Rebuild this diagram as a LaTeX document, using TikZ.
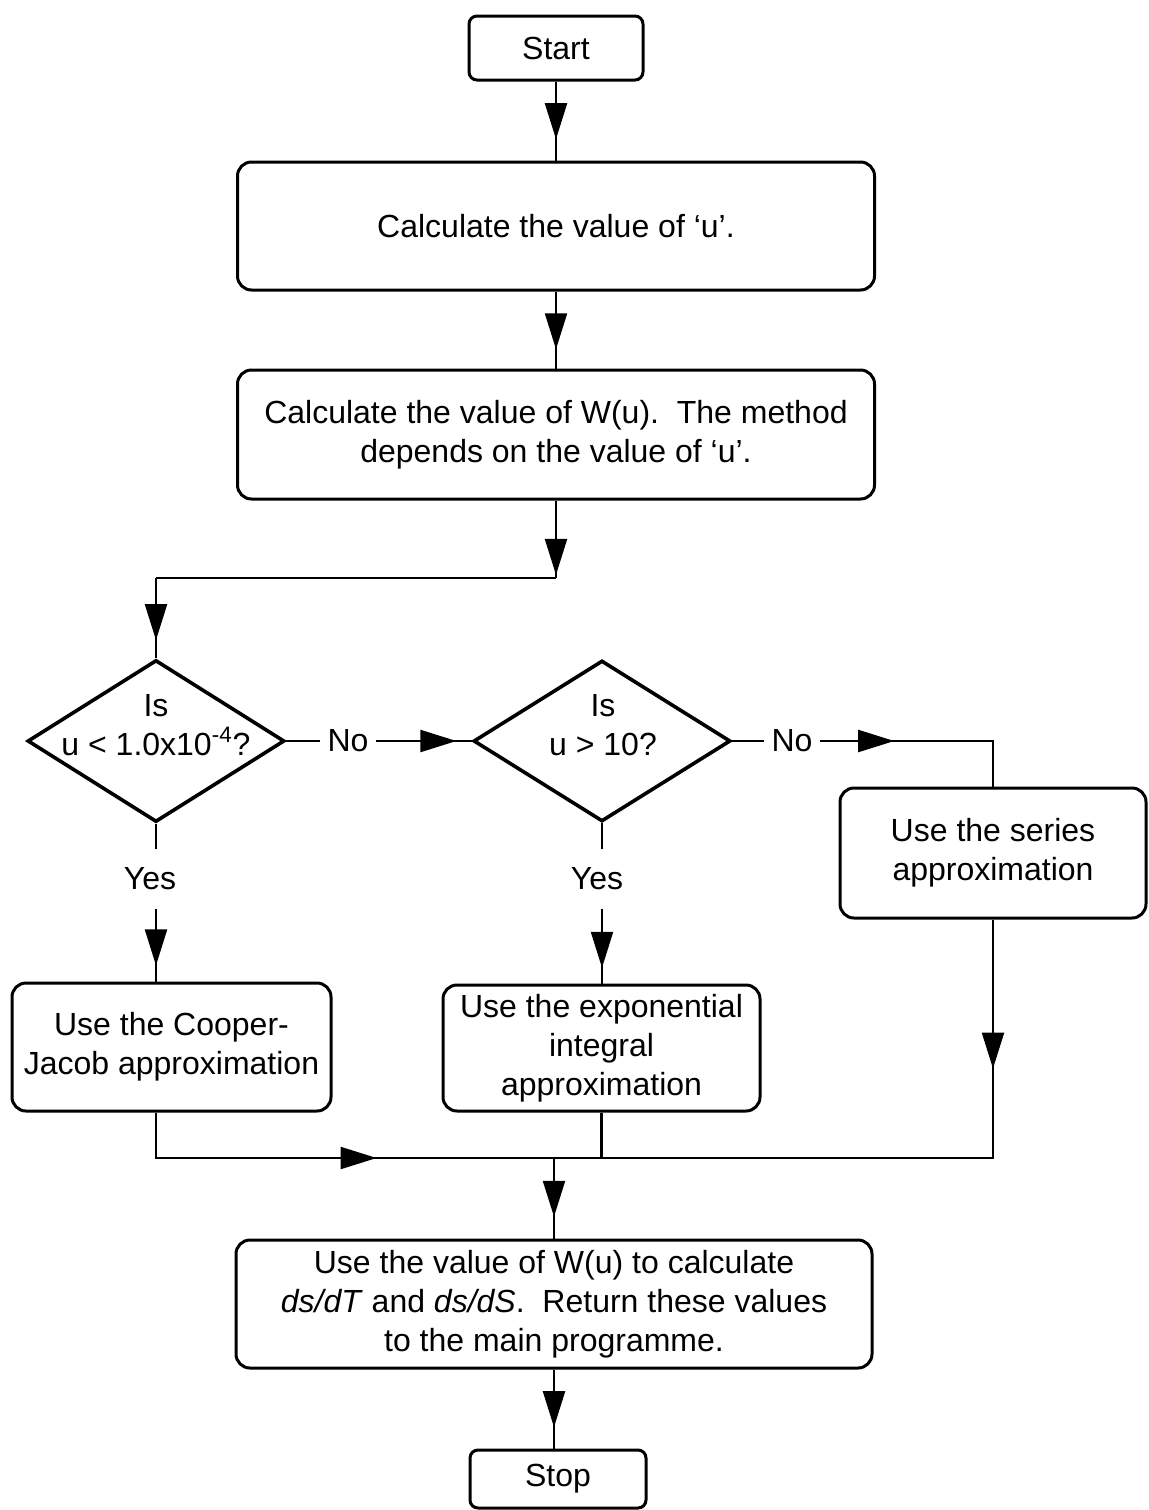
\documentclass[tikz,border=0pt]{standalone}
\usepackage{fontspec}
\setmainfont{Liberation Sans}
\usetikzlibrary{shapes.geometric,arrows.meta,decorations.markings}

\begin{document}
\begin{tikzpicture}[x=0.5pt,y=-0.5pt,
  font=\fontsize{16}{19.5}\selectfont,
  box/.style={draw,line width=1.5pt,rounded corners=7pt,align=center,inner sep=0pt},
  smallbox/.style={box,rounded corners=4pt},
  decision/.style={draw,diamond,line width=1.8pt,inner sep=0pt},
  conn/.style={line width=1.1pt},
  tipat/.style={postaction={decorate},decoration={markings,
      mark=at position #1 with {\arrow{Triangle[length=18pt,width=11pt]}}}},
  lbl/.style={inner xsep=3.5pt,inner ysep=9pt,align=center}
]
\useasboundingbox (0,0) rectangle (1148,1510);

% process boxes
\node[smallbox,minimum width=87pt,minimum height=32pt] (start) at (556,48) {Start};
\node[box,minimum width=318.5pt,minimum height=64pt] (calcu) at (556,226)
  {Calculate the value of ‘u’.};
\node[box,minimum width=318.5pt,minimum height=64.5pt] (wu) at (556,434.5)
  {Calculate the value of W(u).\ \ The method\\depends on the value of ‘u’.};

% decisions
\node[decision,minimum width=128.5pt,minimum height=81pt] (d1) at (156,741) {};
\node[align=center] at (156,725) {Is\\u < 1.0x10\textsuperscript{-4}?};
\node[decision,minimum width=128.5pt,minimum height=80.5pt] (d2) at (602,741) {};
\node[align=center] at (603,725) {Is\\u > 10?};

% branch labels
\node[lbl] (no1) at (348,741) {No};
\node[lbl] (no2) at (792,741) {No};
\node[lbl] (yes1) at (150,879) {Yes};
\node[lbl] (yes2) at (597,879) {Yes};

% approximation boxes
\node[box,minimum width=159.5pt,minimum height=64pt] (cj) at (171.5,1047)
  {Use the Cooper-\\Jacob approximation};
\node[box,minimum width=158.5pt,minimum height=63pt] (exp) at (601.5,1048)
  {Use the exponential\\integral\\approximation};
\node[box,minimum width=153pt,minimum height=65pt] (ser) at (993,853)
  {Use the series\\approximation};

% final steps
\node[box,minimum width=318pt,minimum height=64pt] (final) at (554,1304)
  {Use the value of W(u) to calculate\\\textit{ds/dT} and \textit{ds/dS}.\ \ Return these values\\to the main programme.};
\node[smallbox,minimum width=88pt,minimum height=29pt] (stop) at (558,1479) {Stop};

% junction points
\coordinate (split) at (556,578);
\coordinate (splitL) at (156,578);
\coordinate (join) at (554,1158);

% connectors
\draw[conn,tipat=0.73] (start) -- (calcu);
\draw[conn,tipat=0.75] (calcu) -- (wu);
\draw[conn,tipat=0.96] (wu) -- (split);
\draw[conn] (split) -- (splitL);
\draw[conn,tipat=0.775] (splitL) -- (d1.north);

\draw[conn] (d1.east) -- (no1.west);
\draw[conn,tipat=0.84] (no1.east) -- (d2.west);
\draw[conn] (d2.east) -- (no2.west);
\draw[conn,tipat=0.34] (no2.east) -| (ser.north);

\draw[conn] (d1.south) -- (d1.south |- yes1.north);
\draw[conn,tipat=0.78] (d1.south |- yes1.south) -- (d1.south |- cj.north);
\draw[conn] (d2.south) -- (d2.south |- yes2.north);
\draw[conn,tipat=0.79] (d2.south |- yes2.south) -- (d2.south |- exp.north);

\draw[conn,tipat=0.6] (d1.south |- cj.south) |- (join);
\draw[conn] (exp.south) -- (exp.south |- join);
\draw[conn,tipat=0.22] (ser.south) |- (join);

\draw[conn,tipat=0.73] (join) -- (final.north);
\draw[conn,tipat=0.73] (final.south) -- (final.south |- stop.north);
\end{tikzpicture}
\end{document}
